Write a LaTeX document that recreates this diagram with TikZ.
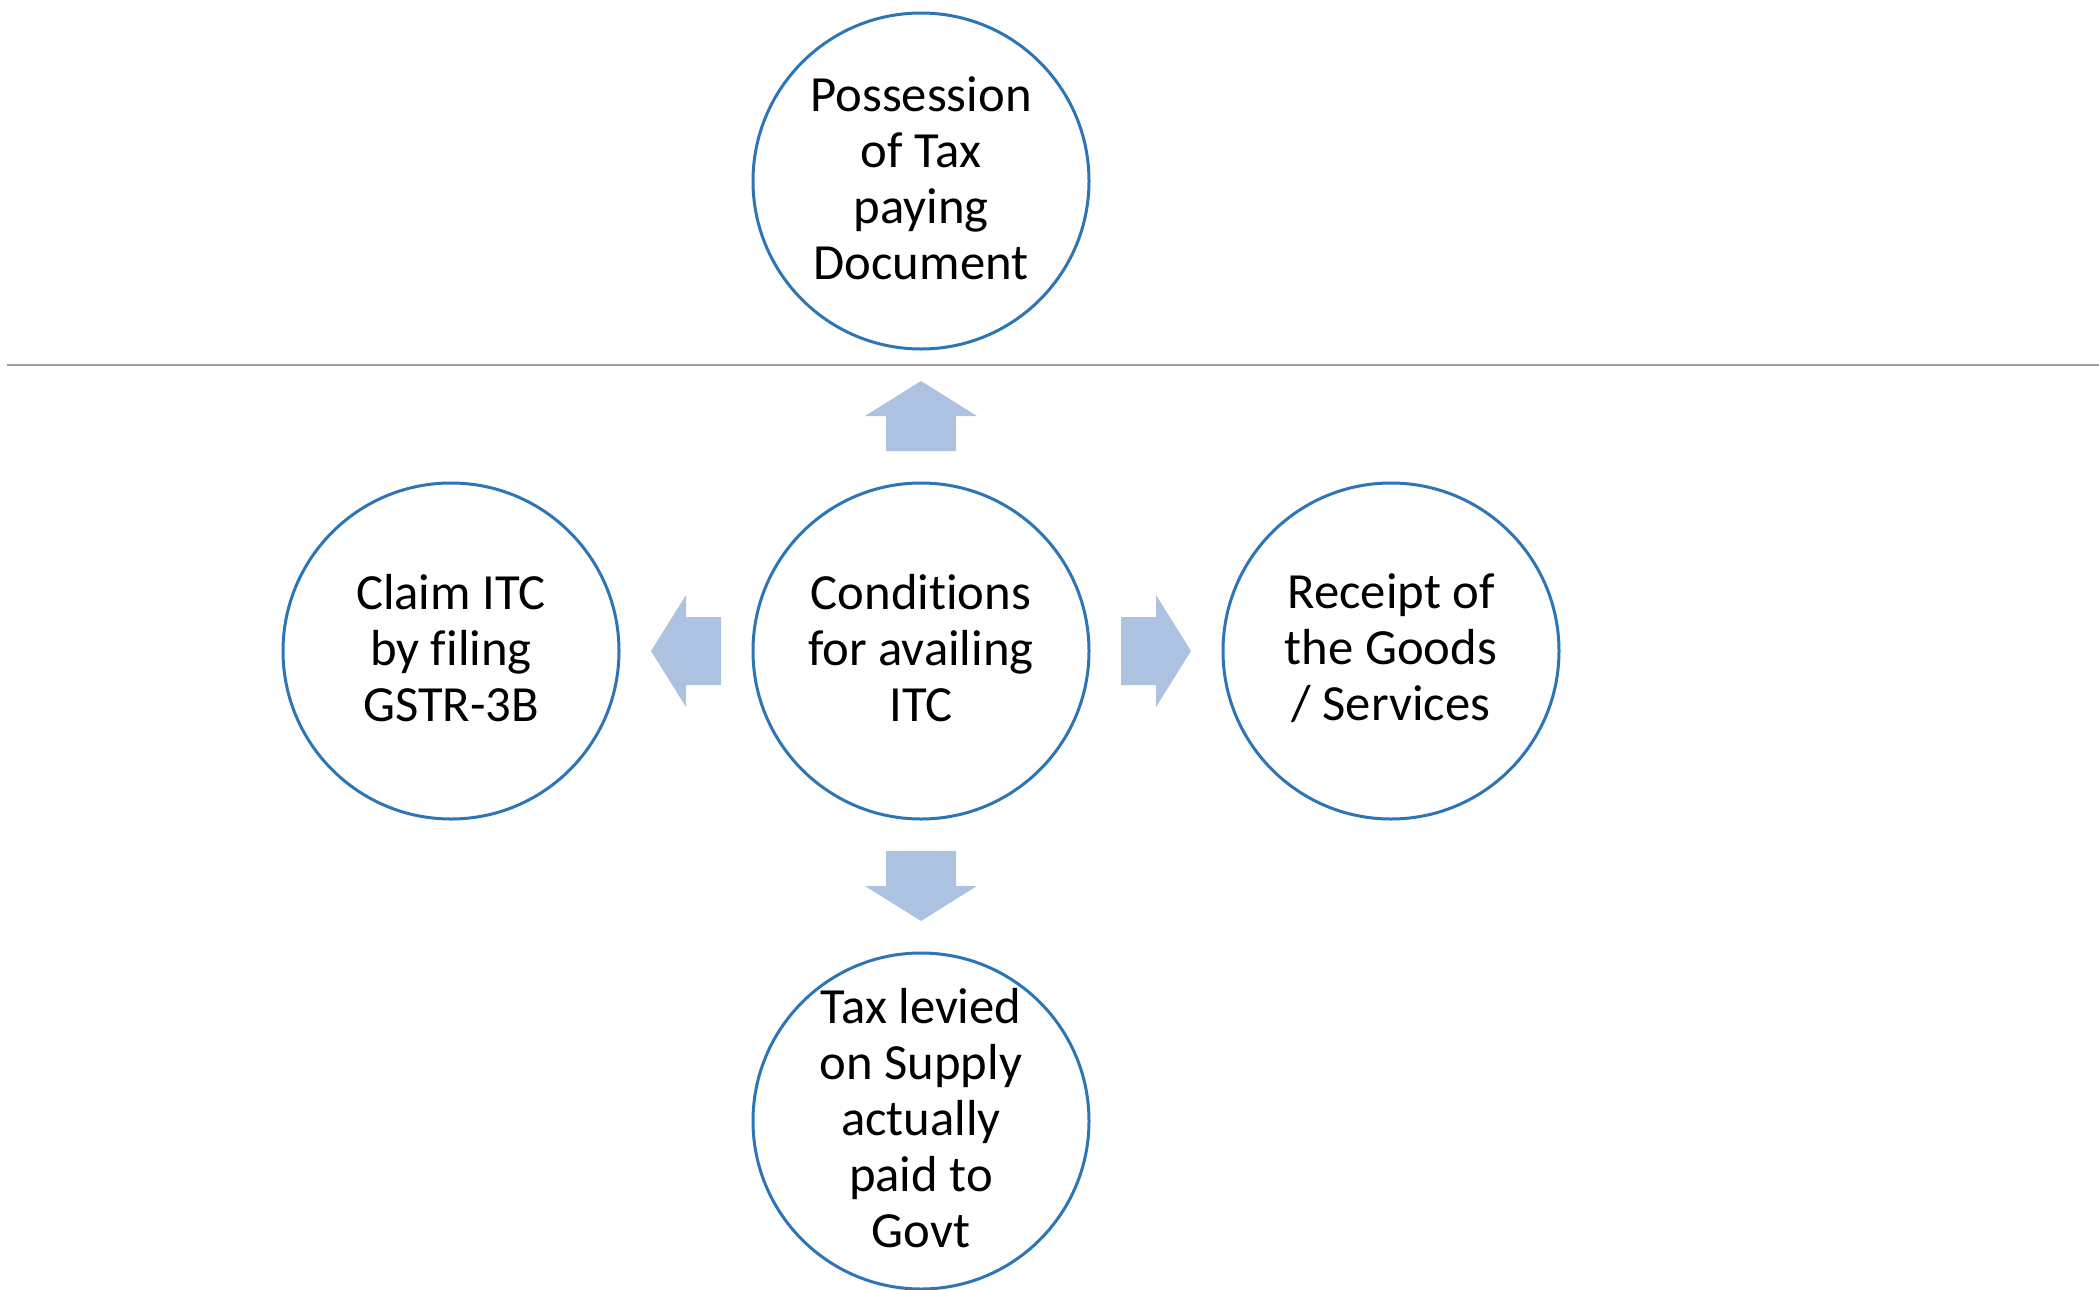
\documentclass[tikz,border=0pt]{standalone}
\usepackage{fontspec}
\setmainfont{Carlito}[Ligatures=NoCommon]
\usetikzlibrary{calc}
\definecolor{ringblue}{RGB}{46,117,182}
\definecolor{arrowblue}{RGB}{172,194,224}
\definecolor{rulegray}{RGB}{160,160,160}
\begin{document}
\begin{tikzpicture}[x=0.75pt,y=-0.75pt,
  ring/.style={circle,draw=ringblue,line width=2.25pt,minimum size=252pt,inner sep=0pt,fill=white},
  label/.style={align=center,font=\fontsize{38}{42}\selectfont,text=black,inner sep=0pt},
  arrowfill/.style={fill=arrowblue}]
\useasboundingbox (0,0) rectangle (2099,1289);

% separator rule
\draw[rulegray,line width=1.5pt] (7,365) -- (2099,365);

% circles
\node[ring] (c) at (921,651) {};
\node[ring] (t) at (921,181) {};
\node[ring] (b) at (921,1121) {};
\node[ring] (l) at (451,651) {};
\node[ring] (r) at (1391,651) {};

% texts
\node[label] (ct) at ([yshift=2pt]c) {Conditions\\for availing\\ITC};
\node[label] (tt) at ([yshift=2pt]t) {Possession\\of Tax\\paying\\Document};
\node[label] (bt) at ([yshift=2pt]b) {Tax levied\\on Supply\\actually\\paid to\\Govt};
\node[label] (lt) at ([yshift=2pt]l) {Claim ITC\\by filing\\GSTR-3B};
\node[label] (rt) at ([yshift=2pt]r) {Receipt of\\the Goods\\/ Services};

% block arrows between the centre and the outer circles
\coordinate (mu) at ($(c)!0.5!(t)$);
\coordinate (md) at ($(c)!0.5!(b)$);
\coordinate (ml) at ($(c)!0.5!(l)$);
\coordinate (mr) at ($(c)!0.5!(r)$);

\fill[arrowfill] ([shift={(0,-35)}]mu) -- ([shift={(56,0)}]mu) -- ([shift={(35,0)}]mu)
  -- ([shift={(35,35)}]mu) -- ([shift={(-35,35)}]mu) -- ([shift={(-35,0)}]mu)
  -- ([shift={(-56,0)}]mu) -- cycle;
\fill[arrowfill] ([shift={(0,35)}]md) -- ([shift={(56,0)}]md) -- ([shift={(35,0)}]md)
  -- ([shift={(35,-35)}]md) -- ([shift={(-35,-35)}]md) -- ([shift={(-35,0)}]md)
  -- ([shift={(-56,0)}]md) -- cycle;
\fill[arrowfill] ([shift={(-35,0)}]ml) -- ([shift={(0,-56)}]ml) -- ([shift={(0,-34)}]ml)
  -- ([shift={(35,-34)}]ml) -- ([shift={(35,34)}]ml) -- ([shift={(0,34)}]ml)
  -- ([shift={(0,56)}]ml) -- cycle;
\fill[arrowfill] ([shift={(35,0)}]mr) -- ([shift={(0,-56)}]mr) -- ([shift={(0,-34)}]mr)
  -- ([shift={(-35,-34)}]mr) -- ([shift={(-35,34)}]mr) -- ([shift={(0,34)}]mr)
  -- ([shift={(0,56)}]mr) -- cycle;
\end{tikzpicture}
\end{document}
